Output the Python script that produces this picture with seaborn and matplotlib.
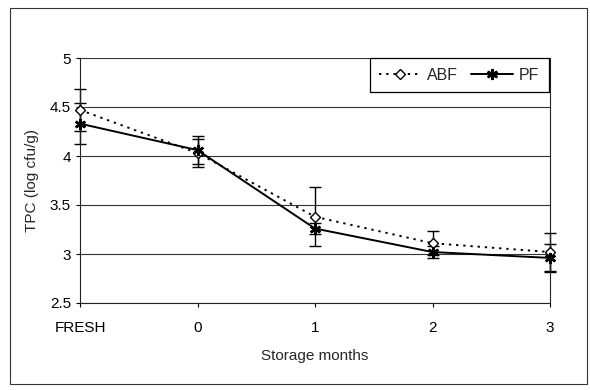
import matplotlib
matplotlib.use("Agg")
import matplotlib.pyplot as plt
import matplotlib.patches as mpatches
import seaborn as sns
import pandas as pd
import numpy as np

categories = ["FRESH", "0", "1", "2", "3"]
abf_values = [4.47, 4.03, 3.38, 3.11, 3.02]
abf_err = [0.21, 0.14, 0.30, 0.12, 0.19]
pf_values = [4.33, 4.06, 3.26, 3.02, 2.96]
pf_err = [0.21, 0.14, 0.06, 0.06, 0.14]
yticks = [2.5, 3, 3.5, 4, 4.5, 5]

sns.set_theme(style="white")
plt.rcParams['font.family'] = ['Liberation Sans', 'DejaVu Sans']

pos = np.arange(len(categories))
df = pd.DataFrame({
    "x": np.concatenate([pos, pos]),
    "TPC": abf_values + pf_values,
    "series": ["ABF"] * len(categories) + ["PF"] * len(categories),
})

fig = plt.figure(figsize=(5.9, 3.9), dpi=100)
ax = fig.add_axes([80/590, 1 - 303/390, 470/590, 245/390])

for y in yticks:
    ax.axhline(y, color="#333333", lw=0.8, zorder=0)

# error bars
for vals, errs in [(abf_values, abf_err), (pf_values, pf_err)]:
    eb = ax.errorbar(pos, vals, yerr=errs, fmt="none", ecolor="black",
                     elinewidth=1.0, capsize=4, capthick=1.0, zorder=2)
    for art in eb.lines[1] + eb.lines[2]:
        art.set_clip_on(False)

sns.lineplot(data=df[df.series == "ABF"], x="x", y="TPC", ax=ax,
             color="black", lw=1.4, linestyle=(0, (1.2, 2.5)),
             marker="D", markersize=5, markerfacecolor="white",
             markeredgecolor="black", markeredgewidth=1.0, label="ABF",
             zorder=3, clip_on=False)
sns.lineplot(data=df[df.series == "PF"], x="x", y="TPC", ax=ax,
             color="black", lw=1.4, linestyle="-",
             marker=(6, 2, 0), markersize=8, markeredgecolor="black",
             markeredgewidth=1.8, label="PF", zorder=4, clip_on=False)

ax.set_xlim(0, len(categories) - 1)
ax.set_ylim(2.5, 5)
ax.set_xticks(pos)
ax.set_xticklabels(categories)
ax.set_yticks(yticks)
ax.set_yticklabels([f"{v:g}" for v in yticks])
ax.tick_params(axis="both", labelsize=11, colors="black", length=3, width=0.8,
               direction="out", left=True, bottom=True)
ax.tick_params(axis="x", pad=10)
ax.set_xlabel("Storage months", fontsize=11, labelpad=10)
ax.set_ylabel("TPC (log cfu/g)", fontsize=11, labelpad=8)

for s in ["left", "bottom", "right"]:
    ax.spines[s].set_visible(True)
    ax.spines[s].set_color("#222222")
    ax.spines[s].set_linewidth(0.8)
ax.spines["top"].set_visible(False)

leg = ax.legend(loc="upper right", bbox_to_anchor=(557/590, 1 - 50/390),
                bbox_transform=fig.transFigure, ncol=2, fontsize=11.5,
                frameon=True, fancybox=False, framealpha=1, edgecolor="black",
                handlelength=2.6, columnspacing=0.8, handletextpad=0.4,
                borderpad=0.6)
leg.get_frame().set_linewidth(0.9)

border = mpatches.Rectangle((10/590, 6/390), 577/590, 376/390,
                            transform=fig.transFigure, fill=False,
                            edgecolor="#333333", lw=0.8)
fig.patches.append(border)

fig.savefig("out.png", dpi=100)
